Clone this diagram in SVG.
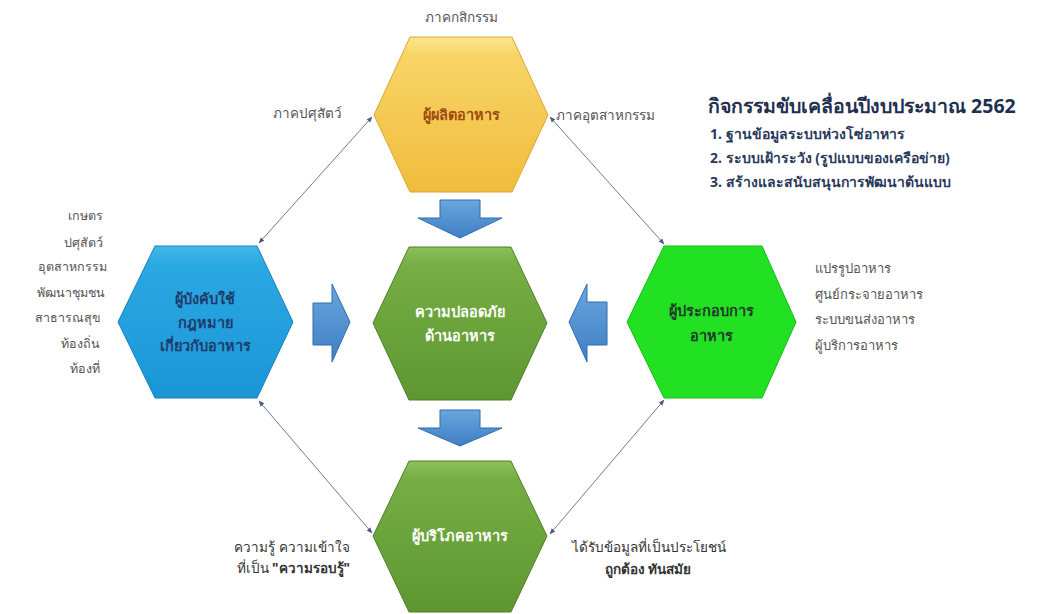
<svg xmlns="http://www.w3.org/2000/svg" width="1037" height="614" viewBox="0 0 1037 614">
<defs>
<linearGradient id="gYellow" x1="0" y1="0" x2="0" y2="1"><stop offset="0" stop-color="#FCE592"/><stop offset="0.12" stop-color="#F8D466"/><stop offset="1" stop-color="#F0BC3C"/></linearGradient>
<linearGradient id="gBlue" x1="0" y1="0" x2="0" y2="1"><stop offset="0" stop-color="#45B6E8"/><stop offset="0.12" stop-color="#2AA8E2"/><stop offset="1" stop-color="#1A96D6"/></linearGradient>
<linearGradient id="gGreen" x1="0" y1="0" x2="0" y2="1"><stop offset="0" stop-color="#8CC05A"/><stop offset="0.12" stop-color="#76AE44"/><stop offset="1" stop-color="#5E9631"/></linearGradient>
<linearGradient id="gArrow" x1="0" y1="0" x2="0" y2="1"><stop offset="0" stop-color="#6AA6DE"/><stop offset="1" stop-color="#3E7FC4"/></linearGradient>
<marker id="ah" viewBox="0 0 10 10" refX="9" refY="5" markerWidth="6" markerHeight="6" orient="auto-start-reverse"><path d="M0,1 L10,5 L0,9 Z" fill="#4A5C80"/></marker>
<style>
.hexY{fill:url(#gYellow);stroke:#D9A72E;stroke-width:1}
.hexB{fill:url(#gBlue);stroke:#1680BC;stroke-width:1}
.hexG{fill:url(#gGreen);stroke:#4E7F27;stroke-width:1}
.hexL{fill:#22E122;stroke:#18B818;stroke-width:1}
.arr{fill:url(#gArrow);stroke:#2F6CAE;stroke-width:1}
.con{stroke:#6C7B96;stroke-width:1;fill:none;marker-start:url(#ah);marker-end:url(#ah)}
text{font-family:"Noto Sans","DejaVu Sans",Tahoma,sans-serif}
.lbl{font-size:12.5px;fill:#555555}
.top{font-size:13.5px;fill:#555555}
.rl{font-size:13px;fill:#555555}
.bt{font-size:13.5px;fill:#333333}
.hx{font-size:14.5px;font-weight:bold;text-anchor:middle}
.ttl{font-size:19.5px;font-weight:bold;fill:#1F2F4F}
.itm{font-size:14px;font-weight:bold;fill:#2A3A5C}
</style>
</defs>
<rect width="1037" height="614" fill="#FFFFFF"/>

<g id="connectors">
<line class="con" x1="372" y1="117" x2="259" y2="243"/>
<line class="con" x1="550" y1="117" x2="664" y2="244"/>
<line class="con" x1="259" y1="401" x2="372" y2="533"/>
<line class="con" x1="664" y1="400" x2="550" y2="534"/>
<path class="arr" d="M440,200 L480,200 L480,218 L502,218 L460,238 L418,218 L440,218 Z"/>
<path class="arr" d="M440,410 L480,410 L480,428 L502,428 L460,446 L418,428 L440,428 Z"/>
<path class="arr" d="M313,303 L332,303 L332,284 L350,322 L332,362 L332,345 L313,345 Z"/>
<path class="arr" d="M607,302 L587,302 L587,284 L569,322 L587,362 L587,345 L607,345 Z"/>
</g>

<g id="node-producer">
<polygon class="hexY" points="374,115 410,37 512,37 548,115 512,192 410,192"/>
<text class="hx" x="461" y="120" fill="#A04A12">ผู้ผลิตอาหาร</text>
</g>

<g id="node-enforcer">
<polygon class="hexB" points="118,322 155,246 257,246 293,322 257,398 155,398"/>
<text class="hx" x="205" y="304" fill="#1F3A6B">ผู้บังคับใช้</text>
<text class="hx" x="205" y="328" fill="#1F3A6B">กฎหมาย</text>
<text class="hx" x="205" y="351" fill="#1F3A6B">เกี่ยวกับอาหาร</text>
</g>

<g id="node-safety">
<polygon class="hexG" points="373,323 409,247 511,247 547,323 511,400 409,400"/>
<text class="hx" x="460" y="317" fill="#FFFFFF">ความปลอดภัย</text>
<text class="hx" x="460" y="341" fill="#FFFFFF">ด้านอาหาร</text>
</g>

<g id="node-operator">
<polygon class="hexL" points="627,322 664,246 762,246 796,322 762,398 664,398"/>
<text class="hx" x="711" y="316" fill="#1E3A2A">ผู้ประกอบการ</text>
<text class="hx" x="711" y="341" fill="#1E3A2A">อาหาร</text>
</g>

<g id="node-consumer">
<polygon class="hexG" points="373,536 409,461 511,461 547,536 511,612 409,612"/>
<text class="hx" x="460" y="541" fill="#FFFFFF">ผู้บริโภคอาหาร</text>
</g>

<g id="labels">
<text class="top" x="461" y="22" text-anchor="middle">ภาคกสิกรรม</text>
<text class="top" x="342" y="118" text-anchor="end">ภาคปศุสัตว์</text>
<text class="top" x="556" y="120">ภาคอุตสาหกรรม</text>

<text class="lbl" x="103" y="220" text-anchor="end">เกษตร</text>
<text class="lbl" x="103" y="247" text-anchor="end">ปศุสัตว์</text>
<text class="lbl" x="107" y="271" text-anchor="end">อุตสาหกรรม</text>
<text class="lbl" x="105" y="297" text-anchor="end">พัฒนาชุมชน</text>
<text class="lbl" x="101" y="322" text-anchor="end">สาธารณสุข</text>
<text class="lbl" x="100" y="348" text-anchor="end">ท้องถิ่น</text>
<text class="lbl" x="100" y="373" text-anchor="end">ท้องที่</text>

<text class="rl" x="815" y="273">แปรรูปอาหาร</text>
<text class="rl" x="815" y="299">ศูนย์กระจายอาหาร</text>
<text class="rl" x="815" y="324">ระบบขนส่งอาหาร</text>
<text class="rl" x="815" y="350">ผู้บริการอาหาร</text>

<text class="bt" x="350" y="552" text-anchor="end">ความรู้ ความเข้าใจ</text>
<text class="bt" x="350" y="573" text-anchor="end">ที่เป็น <tspan font-weight="bold">"ความรอบรู้"</tspan></text>
<text class="bt" x="572" y="552">ได้รับข้อมูลที่เป็นประโยชน์</text>
<text class="bt" x="648" y="574" text-anchor="middle" font-weight="bold">ถูกต้อง  ทันสมัย</text>
</g>

<g id="activities">
<text class="ttl" x="708" y="113">กิจกรรมขับเคลื่อนปีงบประมาณ 2562</text>
<text class="itm" x="710" y="139">1. ฐานข้อมูลระบบห่วงโซ่อาหาร</text>
<text class="itm" x="710" y="163">2. ระบบเฝ้าระวัง (รูปแบบของเครือข่าย)</text>
<text class="itm" x="710" y="187">3. สร้างและสนับสนุนการพัฒนาต้นแบบ</text>
</g>
</svg>
